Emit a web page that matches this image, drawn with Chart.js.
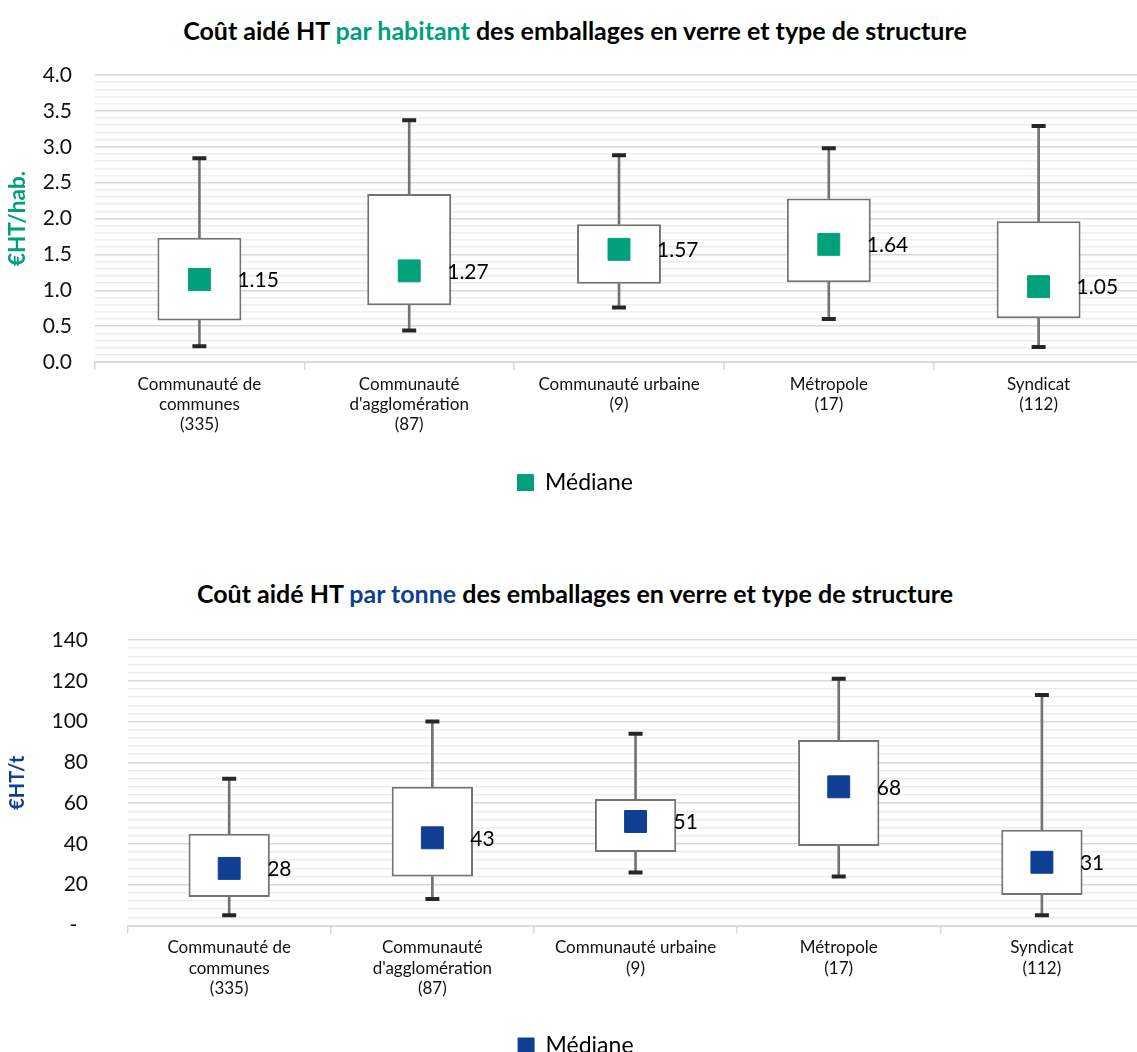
<!DOCTYPE html>
<html lang="fr">
<head>
<meta charset="utf-8">
<title>Coût aidé HT des emballages en verre par type de structure</title>
<script src="https://cdn.jsdelivr.net/npm/chart.js@4.4.1/dist/chart.umd.min.js"></script>
<style>
  html, body { margin: 0; padding: 0; background: #ffffff; }
  body { position: relative; width: 1137px; height: 1052px; overflow: hidden; }
  .title {
    position: absolute; left: 0; width: 1150px; text-align: center;
    font: bold 25px Lato, "Open Sans", sans-serif; line-height: 30px;
    color: #000000; white-space: nowrap;
  }
  .title .hab { color: #00A07A; }
  .title .tonne { color: #0F3F92; }
  #title1 { top: 15px; }
  #title2 { top: 578px; }
  canvas { position: absolute; left: 0; }
  #chartHab { top: 0; }
  #chartTonne { top: 560px; }
</style>
</head>
<body>
<div class="title" id="title1">Coût aidé HT <span class="hab">par habitant</span> des emballages en verre et type de structure</div>
<canvas id="chartHab" width="1160" height="540"></canvas>
<div class="title" id="title2">Coût aidé HT <span class="tonne">par tonne</span> des emballages en verre et type de structure</div>
<canvas id="chartTonne" width="1160" height="540"></canvas>
<script>
// Structure types (number of structures in brackets)
const categories = [
  ['Communauté de', 'communes', '(335)'],
  ['Communauté', "d'agglomération", '(87)'],
  ['Communauté urbaine', '(9)'],
  ['Métropole', '(17)'],
  ['Syndicat', '(112)']
];

// Cost per inhabitant (€HT/hab.)
const habMin    = [0.22, 0.44, 0.76, 0.60, 0.21];
const habQ1     = [0.58, 0.79, 1.09, 1.11, 0.61];
const habMedian = [1.15, 1.27, 1.57, 1.64, 1.05];
const habQ3     = [1.73, 2.34, 1.92, 2.28, 1.96];
const habMax    = [2.84, 3.37, 2.88, 2.98, 3.29];
const habTickLabels = ['0.0', '0.5', '1.0', '1.5', '2.0', '2.5', '3.0', '3.5', '4.0'];

// Cost per tonne (€HT/t)
const tonneMin    = [5, 13, 26, 24, 5];
const tonneQ1     = [14, 24, 36, 39, 15];
const tonneMedian = [28, 43, 51, 68, 31];
const tonneQ3     = [45, 68, 62, 91, 47];
const tonneMax    = [72, 100, 94, 121, 113];
const tonneTickLabels = ['-  ', '20', '40', '60', '80', '100', '120', '140'];

const TEAL = '#00A07A';
const BLUE = '#0F3F92';
const BOX_LINE = '#74736D';
const CAP = '#262626';

Chart.defaults.font.family = 'Lato, "Open Sans", sans-serif';
Chart.defaults.color = '#111111';

// Writes each median value to the right of its box
const medianLabels = {
  id: 'medianLabels',
  afterDatasetsDraw(chart, args, opts) {
    const meta = chart.getDatasetMeta(opts.datasetIndex);
    const values = chart.data.datasets[opts.datasetIndex].data;
    const ctx = chart.ctx;
    ctx.save();
    ctx.font = '21px Lato, "Open Sans", sans-serif';
    ctx.fillStyle = '#000000';
    ctx.textAlign = 'left';
    ctx.textBaseline = 'middle';
    meta.data.forEach((pt, i) => {
      ctx.fillText(opts.format(values[i]), pt.x + 38, pt.y + 1);
    });
    ctx.restore();
  }
};

function boxChart(canvasId, cfg) {
  const pairs = (a, b) => a.map((v, i) => [v, b[i]]);
  const isMajor = v => Math.abs(v / cfg.major - Math.round(v / cfg.major)) < 1e-6;
  return new Chart(document.getElementById(canvasId), {
    type: 'bar',
    data: {
      labels: categories,
      datasets: [
        {
          type: 'line', label: 'Médiane', data: cfg.median, order: 0,
          showLine: false, pointStyle: 'rect', pointRadius: 15.5, pointBorderWidth: 1,
          backgroundColor: cfg.color, borderColor: cfg.color, borderWidth: 1,
          pointBackgroundColor: cfg.color, pointBorderColor: cfg.color
        },
        {
          type: 'line', label: 'Minimum', data: cfg.min, order: 1,
          showLine: false, pointStyle: 'line', pointRadius: 7, pointBorderWidth: 4,
          borderColor: CAP, pointBorderColor: CAP
        },
        {
          type: 'line', label: 'Maximum', data: cfg.max, order: 1,
          showLine: false, pointStyle: 'line', pointRadius: 7, pointBorderWidth: 4,
          borderColor: CAP, pointBorderColor: CAP
        },
        {
          label: 'Quartiles', data: pairs(cfg.q1, cfg.q3), order: 2, grouped: false,
          backgroundColor: '#FFFFFF', borderColor: BOX_LINE, borderWidth: 2,
          borderSkipped: false, barPercentage: 0.4, categoryPercentage: 1
        },
        {
          label: 'Moustache basse', data: pairs(cfg.min, cfg.q1), order: 3, grouped: false,
          backgroundColor: BOX_LINE, borderWidth: 0, barThickness: 2
        },
        {
          label: 'Moustache haute', data: pairs(cfg.q3, cfg.max), order: 3, grouped: false,
          backgroundColor: BOX_LINE, borderWidth: 0, barThickness: 2
        }
      ]
    },
    options: {
      responsive: false,
      animation: false,
      events: [],
      layout: { padding: { top: cfg.padTop, bottom: cfg.padBottom, left: 0, right: cfg.padRight } },
      scales: {
        x: {
          type: 'category',
          offset: true,
          afterFit(scale) { scale.height = 74; },
          grid: {
            offset: true, drawOnChartArea: false, drawTicks: true,
            tickLength: 8, color: '#D9D9D9', lineWidth: 1.5
          },
          border: { display: true, color: '#D9D9D9', width: 2 },
          ticks: {
            font: { size: 17, lineHeight: 1.2 }, color: '#111111', padding: 4,
            maxRotation: 0, autoSkip: false
          }
        },
        y: {
          min: 0, max: cfg.yMax,
          afterFit(scale) { scale.width = cfg.axisWidth; },
          border: { display: false },
          grid: {
            drawTicks: false,
            color: c => isMajor(c.tick.value) ? '#D9D9D9' : '#EDEDED',
            lineWidth: 1.5
          },
          ticks: {
            stepSize: cfg.minor, autoSkip: false, padding: cfg.tickPad,
            font: { size: 21 }, color: '#111111',
            callback: v => isMajor(v) ? cfg.tickLabels[Math.round(v / cfg.major)] : ''
          },
          title: {
            display: true, text: cfg.yTitle, color: cfg.color,
            font: { size: cfg.titleSize, weight: 'bold' }, padding: { top: cfg.titlePad, bottom: 0 }
          }
        }
      },
      plugins: {
        legend: {
          position: 'bottom',
          labels: {
            filter: item => item.datasetIndex === 0,
            boxWidth: 16, boxHeight: 16, padding: 35,
            font: { size: 23 }, color: '#000000'
          }
        },
        tooltip: { enabled: false },
        medianLabels: { datasetIndex: 0, format: cfg.format }
      }
    },
    plugins: [medianLabels]
  });
}

boxChart('chartHab', {
  min: habMin, q1: habQ1, median: habMedian, q3: habQ3, max: habMax,
  color: TEAL, yTitle: '€HT/hab.', yMax: 4, major: 0.5, minor: 0.1,
  tickLabels: habTickLabels, format: v => v.toFixed(2),
  padTop: 75, padBottom: 36, padRight: 9.5, axisWidth: 94.5, tickPad: 22.5,
  titlePad: 4, titleSize: 22.5
});

boxChart('chartTonne', {
  min: tonneMin, q1: tonneQ1, median: tonneMedian, q3: tonneQ3, max: tonneMax,
  color: BLUE, yTitle: '€HT/t', yMax: 140, major: 20, minor: 4,
  tickLabels: tonneTickLabels, format: v => String(v),
  padTop: 80, padBottom: 32.5, padRight: 8.4, axisWidth: 127.6, tickPad: 39.6,
  titlePad: 6, titleSize: 20
});
</script>
</body>
</html>
